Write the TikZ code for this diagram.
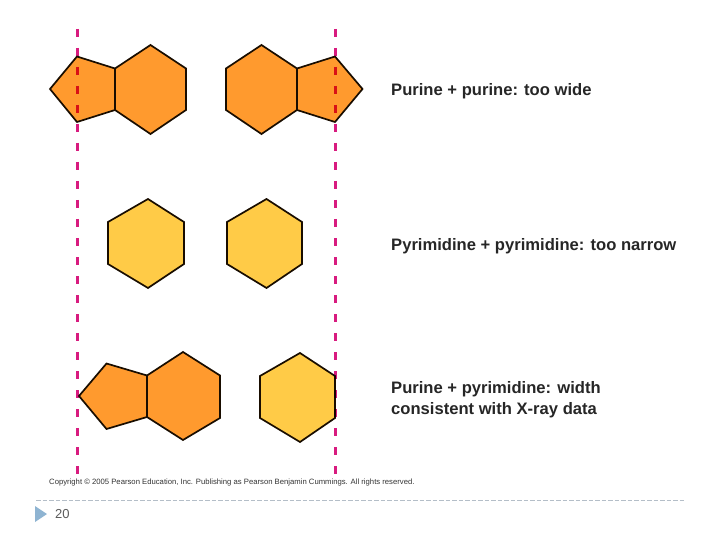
\documentclass[tikz,border=0pt]{standalone}
\usepackage{fontspec}
\setmainfont{Liberation Sans}
\definecolor{purinefill}{HTML}{FF9A2E}
\definecolor{pyrimfill}{HTML}{FFCB47}
\definecolor{guide}{HTML}{D81B7F}
\definecolor{rulecol}{HTML}{B4BEC8}
\definecolor{markcol}{HTML}{8FB4D2}
\tikzset{
  ring/.style={draw=black!90!orange,line width=1.7pt,line join=miter},
  purine/.style={ring,fill=purinefill},
  pyrim/.style={ring,fill=pyrimfill},
  guideline/.style={draw=guide,line width=3pt,dash pattern=on 8pt off 11pt},
  caption/.style={anchor=base west,inner sep=0pt,font=\fontsize{16.6}{20}\selectfont\bfseries,text=black!85},
}
\begin{document}
\begin{tikzpicture}[x=1pt,y=-1pt]
\useasboundingbox (0,0) rectangle (720,540);
% row 1
\draw[purine] (50,89) -- (77,56.5) -- (115,68.5) -- (115,110) -- (77,122) -- cycle;
\draw[purine] (115,68.5) -- (150.5,45) -- (186,68.5) -- (186,110) -- (150.5,134) -- (115,110) -- cycle;
\draw[purine] (226,68.5) -- (261.5,45) -- (297,68.5) -- (297,110) -- (261.5,134) -- (226,110) -- cycle;
\draw[purine] (297,68.5) -- (335,56.5) -- (362.5,89) -- (335,122) -- (297,110) -- cycle;
% row 2
\draw[pyrim] (108,222) -- (148,199) -- (184,222) -- (184,264) -- (148,288) -- (108,264) -- cycle;
\draw[pyrim] (227,222) -- (266.5,199) -- (302,222) -- (302,264) -- (266.5,288) -- (227,264) -- cycle;
% row 3
\draw[purine] (79,396) -- (106.5,363.5) -- (147,375.5) -- (147,417) -- (106.5,429) -- cycle;
\draw[purine] (147,375.5) -- (183,352) -- (220,375.5) -- (220,418) -- (183,440) -- (147,417) -- cycle;
\draw[pyrim] (260,376) -- (300,353) -- (335,376) -- (335,418) -- (300,442) -- (260,418) -- cycle;
% guides
\begin{scope}[blend mode=multiply]
\coordinate (gla) at (77,29);
\coordinate (glb) at (77,476);
\coordinate (gra) at (335,29);
\coordinate (grb) at (335,476);
\draw[guideline] (gla) -- (glb);
\draw[guideline] (gra) -- (grb);
\end{scope}
% captions
\node[caption] (c1) at (391,96) {Purine + purine: too wide};
\node[caption] (c2) at (391,250) {Pyrimidine + pyrimidine: too narrow};
\node[caption] (c3) at (391,393) {Purine + pyrimidine: width};
\node[caption] (c4) at (391,414) {consistent with X-ray data};
\node[anchor=base west,inner sep=0pt,font=\fontsize{7.7}{9}\selectfont,text=black!80] (copy) at (49,484) {Copyright © 2005 Pearson Education, Inc. Publishing as Pearson Benjamin Cummings. All rights reserved.};
% footer
\coordinate (ra) at (36,500);
\coordinate (rb) at (686,500);
\draw[rulecol,line width=0.8pt,dash pattern=on 4.5pt off 2pt] (ra) -- (rb);
\fill[markcol] (35,506) -- (47,514) -- (35,522) -- cycle;
\node[anchor=base west,inner sep=0pt,font=\fontsize{13}{15}\selectfont,text=black!65] (num) at (55,518) {20};
\end{tikzpicture}
\end{document}
